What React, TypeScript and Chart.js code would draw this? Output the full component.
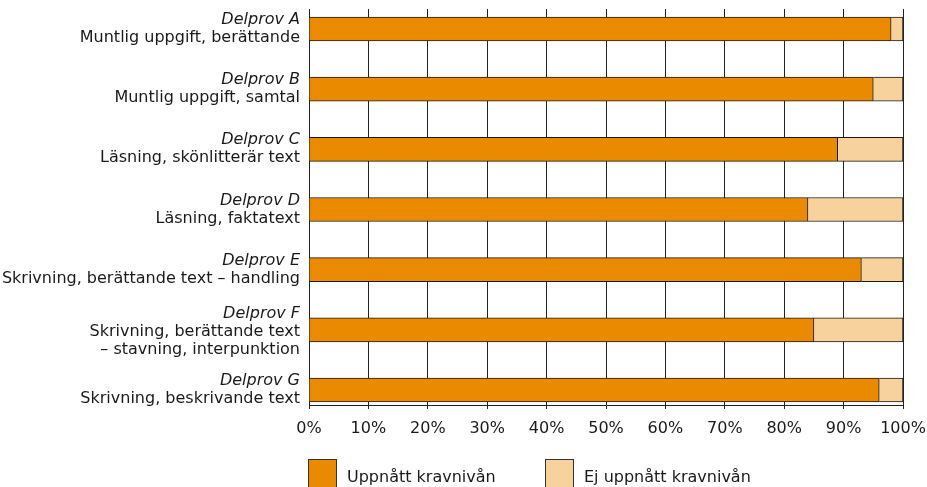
import React, { useEffect, useRef } from "react";
import { Chart, registerables } from "chart.js";

Chart.register(...registerables);

const categories = ["Delprov A", "Delprov B", "Delprov C", "Delprov D", "Delprov E", "Delprov F", "Delprov G"];
const subLabels = [
  ["Muntlig uppgift, berättande"],
  ["Muntlig uppgift, samtal"],
  ["Läsning, skönlitterär text"],
  ["Läsning, faktatext"],
  ["Skrivning, berättande text – handling"],
  ["Skrivning, berättande text", "– stavning, interpunktion"],
  ["Skrivning, beskrivande text"],
];
const achieved = [98, 95, 89, 84, 93, 85, 96];
const notAchieved = [2, 5, 11, 16, 7, 15, 4];
const seriesNames = ["Uppnått kravnivån", "Ej uppnått kravnivån"];
const xTickStep = 10;

const ORANGE = "#E98A00";
const LIGHT = "#F7D29C";
const FONT = "'DejaVu Sans', sans-serif";

export default function App() {
  const ref = useRef<HTMLCanvasElement>(null);
  useEffect(() => {
    document.body.style.margin = "0";
    const canvas = ref.current!;
    const labelPlugin = {
      id: "catLabels",
      afterDraw(chart: any) {
        const ctx = chart.ctx;
        const ys = chart.scales.y;
        ctx.save();
        ctx.fillStyle = "#1a1a1a";
        ctx.textAlign = "right";
        ctx.textBaseline = "middle";
        const lineH = 18;
        categories.forEach((cat, i) => {
          const cy = ys.getPixelForValue(i);
          const lines = [cat, ...subLabels[i]];
          const start = cy - ((lines.length - 1) * lineH) / 2 + (lines.length > 2 ? 2 : 0);
          lines.forEach((ln, j) => {
            ctx.font = (j === 0 ? "italic " : "") + "16px " + FONT;
            ctx.fillText(ln, 300, start + j * lineH);
          });
        });
        // legend
        const items = [
          { x: 308, color: ORANGE, text: seriesNames[0] },
          { x: 545, color: LIGHT, text: seriesNames[1] },
        ];
        ctx.textAlign = "left";
        ctx.font = "16px " + FONT;
        items.forEach((it) => {
          ctx.fillStyle = it.color;
          ctx.fillRect(it.x, 459, 28, 28);
          ctx.strokeStyle = "#333";
          ctx.lineWidth = 1;
          ctx.strokeRect(it.x + 0.5, 459.5, 28, 28);
          ctx.fillStyle = "#1a1a1a";
          ctx.fillText(it.text, it.x + 39, 478);
        });
        ctx.restore();
      },
    };
    const chart = new Chart(canvas, {
      type: "bar",
      data: {
        datasets: [
          {
            label: seriesNames[0],
            data: achieved.map((v, i) => ({ x: v, y: i })),
            backgroundColor: ORANGE,
            borderColor: "#1a1a1a",
            borderWidth: 1,
            barThickness: 24,
          },
          {
            label: seriesNames[1],
            data: notAchieved.map((v, i) => ({ x: v, y: i })),
            backgroundColor: LIGHT,
            borderColor: "#1a1a1a",
            borderWidth: 1,
            barThickness: 24,
          },
        ],
      },
      options: {
        indexAxis: "y",
        animation: false,
        responsive: false,
        layout: { padding: { left: 309, right: 24, top: 9, bottom: 0 } },
        plugins: { legend: { display: false }, tooltip: { enabled: false } },
        scales: {
          y: {
            type: "linear",
            reverse: true,
            offset: false,
            min: -0.332,
            max: 6.249,
            stacked: true,
            display: false,
          },
          x: {
            type: "linear",
            min: 0,
            max: 100,
            stacked: true,
            grid: { color: "#222", lineWidth: 1, tickLength: 4 },
            border: { display: true, color: "#222", width: 1 },
            ticks: {
              stepSize: xTickStep,
              padding: 10,
              color: "#1a1a1a",
              font: { family: FONT, size: 16 },
              callback: (v: any) => v + "%",
              maxRotation: 0,
            },
            afterFit: (s: any) => {
              s.height = 82;
              s.paddingLeft = 0;
              s.paddingRight = 0;
            },
          },
        },
      },
      plugins: [labelPlugin],
    } as any);
    return () => chart.destroy();
  }, []);
  return (
    <div style={{ width: 927, height: 487, position: "relative", overflow: "hidden" }}>
      <canvas ref={ref} width={927} height={487} style={{ display: "block" }} />
    </div>
  );
}
